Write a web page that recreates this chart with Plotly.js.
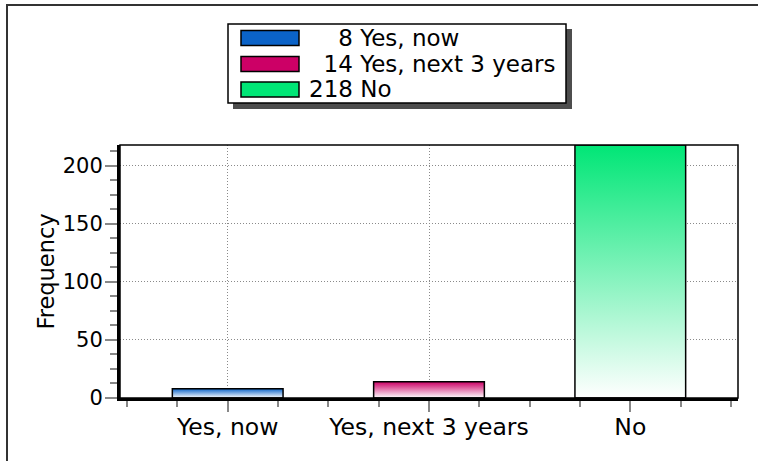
<!DOCTYPE html>
<html>
<head>
<meta charset="utf-8">
<script src="https://cdn.plot.ly/plotly-3.0.1.min.js"></script>
<style>
  html, body { margin: 0; padding: 0; background: #fff; }
  #chart { width: 758px; height: 461px; }
</style>
</head>
<body>
<div id="chart"></div>
<script>
// Survey answers and their counts
const categories = ['Yes, now', 'Yes, next 3 years', 'No'];
const counts = [8, 14, 218];
const barColors = ['#0b63c8', '#cc0066', '#00e676'];

const W = 758, H = 461;
const M = { l: 120, r: 20, t: 145, b: 63 };
const plotW = W - M.l - M.r, plotH = H - M.t - M.b;
// pixel position -> paper fraction (for the decorations around the plot)
const px = v => (v - M.l) / plotW;
const py = v => (H - M.b - v) / plotH;

const FONT = 'DejaVu Sans, Verdana, sans-serif';
const xIdx = categories.map((_, i) => i);

const trace = {
  type: 'bar',
  x: xIdx,
  y: counts,
  width: 0.55,
  marker: { color: barColors, line: { color: '#000', width: 1.5 } },
  hoverinfo: 'none',
  showlegend: false
};

// legend box built from the same arrays
const maxDigits = Math.max(...counts.map(c => String(c).length));
const frameLine = { color: '#333', width: 2 };
const shapes = [
  // outer frame: top and left edges
  { type: 'line', xref: 'paper', yref: 'paper', x0: px(6), x1: px(900), y0: py(5), y1: py(5),
    line: frameLine, layer: 'above' },
  { type: 'line', xref: 'paper', yref: 'paper', x0: px(7), x1: px(7), y0: py(4), y1: py(600),
    line: frameLine, layer: 'above' },
  // plot frame (top/right)
  { type: 'rect', xref: 'paper', yref: 'paper', x0: 0, x1: 1, y0: 0, y1: 1,
    line: { color: '#000', width: 1.5 }, fillcolor: 'rgba(0,0,0,0)', layer: 'above' },
  // legend shadow + box
  { type: 'rect', xref: 'paper', yref: 'paper', x0: px(233), x1: px(572), y0: py(29), y1: py(109),
    line: { width: 0 }, fillcolor: '#4d4d4d', layer: 'above' },
  { type: 'rect', xref: 'paper', yref: 'paper', x0: px(228), x1: px(566), y0: py(24), y1: py(103),
    line: { color: '#000', width: 1.5 }, fillcolor: '#fff', layer: 'above' }
];
const annotations = [];
const rowY = [38, 64, 89.5];
categories.forEach((cat, i) => {
  shapes.push({ type: 'rect', xref: 'paper', yref: 'paper',
    x0: px(241), x1: px(299), y0: py(rowY[i] - 7.5), y1: py(rowY[i] + 7.5),
    line: { color: '#000', width: 1.5 }, fillcolor: barColors[i], layer: 'above' });
  const pad = '\u00a0'.repeat(2 * (maxDigits - String(counts[i]).length));
  annotations.push({ xref: 'paper', yref: 'paper', x: px(307), y: py(rowY[i]),
    xanchor: 'left', yanchor: 'middle', showarrow: false,
    text: pad + counts[i] + ' ' + cat,
    font: { family: FONT, size: 23, color: '#000' } });
});

const grid = { showgrid: true, gridcolor: '#8a8a8a', griddash: '1px,2px', gridwidth: 1 };

const layout = {
  width: W, height: H,
  margin: M,
  paper_bgcolor: '#fff', plot_bgcolor: '#fff',
  showlegend: false,
  xaxis: Object.assign({
    type: 'linear', range: [-0.535, 2.535], fixedrange: true,
    tickmode: 'array', tickvals: xIdx, ticktext: categories,
    ticks: 'outside', ticklen: 11, tickwidth: 2, tickcolor: '#888',
    ticklabelstandoff: -5,
    minor: { dtick: 0.25, tick0: 0, ticks: 'outside', ticklen: 6, tickwidth: 2, tickcolor: '#888', showgrid: false },
    zeroline: false,
    showline: true, linecolor: '#000', linewidth: 3,
    tickfont: { family: FONT, size: 23.5, color: '#000' }
  }, grid),
  yaxis: Object.assign({
    range: [0, 218], fixedrange: true,
    dtick: 50, tick0: 0,
    ticks: 'outside', ticklen: 12, tickwidth: 2, tickcolor: '#888',
    ticklabelstandoff: -2,
    minor: { dtick: 12.5, tick0: 0, ticks: 'outside', ticklen: 7, tickwidth: 2, tickcolor: '#888', showgrid: false },
    zeroline: false,
    showline: true, linecolor: '#000', linewidth: 3,
    tickfont: { family: FONT, size: 21, color: '#000' },
    title: { text: 'Frequency', font: { family: FONT, size: 22.5, color: '#000' }, standoff: 2 }
  }, grid),
  shapes: shapes,
  annotations: annotations
};

Plotly.newPlot('chart', [trace], layout, { staticPlot: true }).then(gd => {
  // vertical fade from each bar colour to white
  const NS = 'http://www.w3.org/2000/svg';
  const defs = gd.querySelector('svg.main-svg defs');
  barColors.forEach((c, i) => {
    const g = document.createElementNS(NS, 'linearGradient');
    g.setAttribute('id', 'barFade' + i);
    g.setAttribute('x1', '0'); g.setAttribute('y1', '0');
    g.setAttribute('x2', '0'); g.setAttribute('y2', '1');
    [[0, c], [1, '#ffffff']].forEach(([o, col]) => {
      const s = document.createElementNS(NS, 'stop');
      s.setAttribute('offset', o);
      s.setAttribute('stop-color', col);
      g.appendChild(s);
    });
    defs.appendChild(g);
  });
  gd.querySelectorAll('.barlayer .point path').forEach((p, i) => {
    p.style.fill = 'url(#barFade' + i + ')';
  });
});
</script>
</body>
</html>
